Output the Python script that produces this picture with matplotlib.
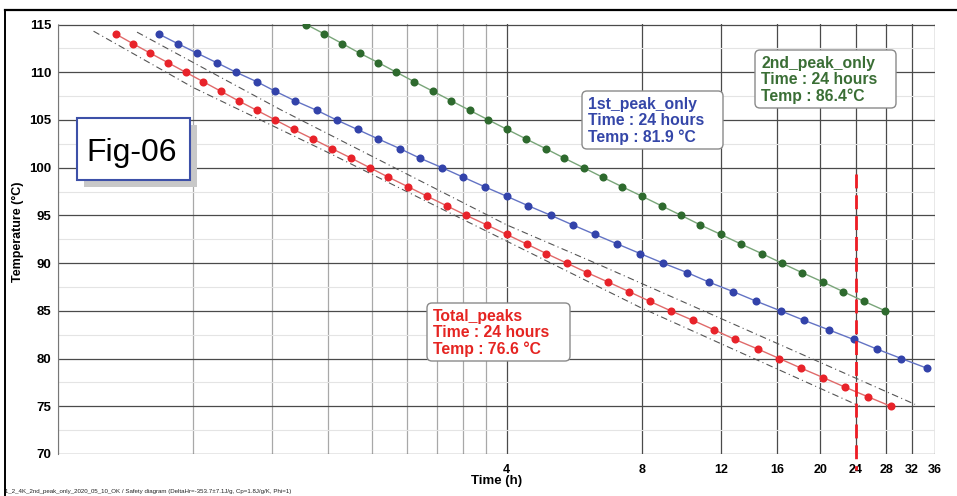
import matplotlib.pyplot as plt
from matplotlib.patches import Rectangle, FancyBboxPatch
from matplotlib.lines import Line2D
from matplotlib.ticker import NullFormatter

plt.rcParams['font.family'] = ['Liberation Sans', 'DejaVu Sans']

W, H = 957, 496

# temperature (degC) vs time to reach it (h)
temps_total = list(range(114, 74, -1))
time_total = [0.538, 0.587, 0.642, 0.703, 0.770, 0.843, 0.923, 1.01, 1.11, 1.22,
              1.34, 1.48, 1.63, 1.80, 1.98, 2.18, 2.41, 2.66, 2.94, 3.25,
              3.61, 4.00, 4.43, 4.90, 5.44, 6.04, 6.74, 7.50, 8.33, 9.28,
              10.4, 11.6, 12.9, 14.5, 16.2, 18.1, 20.3, 22.7, 25.5, 28.7]

temps_1st = list(range(114, 78, -1))
time_1st = [0.671, 0.739, 0.816, 0.903, 0.997, 1.11, 1.22, 1.35, 1.51, 1.67,
            1.86, 2.07, 2.31, 2.56, 2.87, 3.20, 3.57, 4.00, 4.47, 5.02,
            5.61, 6.29, 7.06, 7.93, 8.92, 10.1, 11.3, 12.8, 14.4, 16.3,
            18.4, 20.9, 23.7, 26.7, 30.3, 34.5]

temps_2nd = list(range(115, 84, -1))
time_2nd = [1.43, 1.57, 1.72, 1.88, 2.07, 2.27, 2.49, 2.74, 3.01, 3.31,
            3.64, 4.01, 4.42, 4.88, 5.37, 5.93, 6.54, 7.23, 8.01, 8.85,
            9.79, 10.8, 12.0, 13.3, 14.8, 16.4, 18.2, 20.3, 22.5, 25.0, 27.9]

# uncertainty band around Total_peaks
band_lo_temp = [114.3, 108.4, 101.9, 85.4, 75.0]
band_lo_time = [0.48, 0.80, 1.55, 7.9, 24.5]
band_hi_temp = [114.2, 106.1, 94.0, 89.8, 75.2]
band_hi_time = [0.60, 1.25, 4.0, 6.45, 32.5]

tmr_time = 24
x_major = [4, 8, 12, 16, 20, 24, 28, 32, 36]
x_minor = [0.8, 1.2, 1.6, 2.0, 2.4, 2.8, 3.2, 3.6]

labels = [
    ("Total_peaks\nTime : 24 hours\nTemp : 76.6 °C", '#e52421'),
    ("1st_peak_only\nTime : 24 hours\nTemp : 81.9 °C", '#3446a8'),
    ("2nd_peak_only\nTime : 24 hours\nTemp : 86.4°C", '#3a6e35'),
]
footer = "1_2_4K_2nd_peak_only_2020_05_10_OK / Safety diagram (DeltaHr=-353.7±7.1J/g, Cp=1.8J/g/K, Phi=1)"

fig = plt.figure(figsize=(W / 100, H / 100), dpi=100)
ax = fig.add_axes([58 / W, 1 - 454 / H, (935 - 58) / W, (454 - 24.5) / H])

ax.set_xscale('log')
ax.set_xlim(0.4, 36)
ax.set_ylim(70, 115)

ax.set_xticks(x_major)
ax.set_xticklabels([str(v) for v in x_major])
ax.set_xticks(x_minor, minor=True)
ax.xaxis.set_minor_formatter(NullFormatter())
ax.set_yticks(range(70, 116, 5))
ax.set_yticks([72.5 + 5 * i for i in range(9)], minor=True)

ax.xaxis.grid(True, which='major', color='#4a4a4a', lw=0.9)
ax.xaxis.grid(True, which='minor', color='#a8a8a8', lw=0.9)
ax.yaxis.grid(True, which='major', color='#4a4a4a', lw=0.9)
ax.yaxis.grid(True, which='minor', color='#e4e4e4', lw=0.8)
ax.axvline(0.4, color='#a8a8a8', lw=0.9)
ax.set_axisbelow(True)

ax.tick_params(which='both', length=0)
ax.tick_params(axis='x', pad=7, labelsize=9)
ax.tick_params(axis='y', pad=5, labelsize=9.5)
for lab in ax.get_xticklabels() + ax.get_yticklabels():
    lab.set_fontweight('bold')
for s in ['top', 'right', 'bottom']:
    ax.spines[s].set_visible(False)
ax.spines['left'].set_color('#777777')

# bands
ax.plot(band_lo_time, band_lo_temp, color='#555555', lw=0.8, ls=(0, (6, 3, 1, 3)))
ax.plot(band_hi_time, band_hi_temp, color='#555555', lw=0.8, ls=(0, (6, 3, 1, 3)))

# curves
ax.plot(time_total, temps_total, color='#e06a6a', lw=1.0, zorder=3)
ax.plot(time_total, temps_total, 'o', color='#e8232a', ms=5.8, mec='none', zorder=4)
ax.plot(time_1st, temps_1st, color='#6373c4', lw=1.0, zorder=3)
ax.plot(time_1st, temps_1st, 'o', color='#3343aa', ms=5.8, mec='none', zorder=4)
ax.plot(time_2nd, temps_2nd, color='#79a579', lw=1.0, zorder=3)
ax.plot(time_2nd, temps_2nd, 'o', color='#2e6a2e', ms=5.8, mec='none', zorder=4)

# 24 h marker
ax.plot([tmr_time, tmr_time], [99.3, 68.3], color='#ee1c24', lw=2.0,
        ls=(0, (5, 2.5)), clip_on=False, zorder=5)

tr = fig.dpi_scale_trans


def pt(x, y):
    return x / 100, (H - y) / 100


# label boxes
boxes = [(427, 303, 570, 361), (582, 91, 723, 149), (755, 50, 896, 108)]
for (x0, y0, x1, y1), (txt, col) in zip(boxes, labels):
    bx, by = pt(x0, y1)
    fig.patches.append(FancyBboxPatch((bx, by), (x1 - x0) / 100, (y1 - y0) / 100,
                                      boxstyle='round,pad=0,rounding_size=0.05',
                                      fc='white', ec='#8a8a8a', lw=1.0, transform=tr, zorder=6))
    tx, ty = pt(x0 + 6, (y0 + y1) / 2 + 1)
    fig.text(tx, ty, txt, transform=tr, color=col, fontsize=11.3, fontweight='bold',
             ha='left', va='center', linespacing=1.12, zorder=7)

# Fig-06 tag
sx, sy = pt(84, 187)
fig.patches.append(Rectangle((sx, sy), 113 / 100, 62 / 100, transform=tr,
                             fc='#c8c8c8', ec='none', zorder=6))
fx, fy = pt(77, 180)
fig.patches.append(Rectangle((fx, fy), 113 / 100, 62 / 100, transform=tr,
                             fc='white', ec='#3d50a8', lw=1.5, zorder=7))
cx, cy = pt(132, 153)
fig.text(cx, cy, "Fig-06", transform=tr, fontsize=23, ha='center', va='center', zorder=8)

# axis titles
fig.text(*pt(18, 232), "Temperature (°C)", transform=tr, rotation=90, fontsize=9,
         fontweight='bold', ha='center', va='center')
fig.text(*pt(497, 481), "Time (h)", transform=tr, fontsize=9.5,
         fontweight='bold', ha='center', va='center')
fig.text(*pt(5, 491), footer, transform=tr, fontsize=4.4, ha='left', va='center',
         color='#222222')

# outer frame
fig.lines.append(Line2D([5 / 100, W / 100], [(H - 10) / 100] * 2, transform=tr,
                        color='black', lw=1.6))
fig.lines.append(Line2D([5 / 100] * 2, [0, (H - 10) / 100], transform=tr,
                        color='black', lw=1.4))

fig.savefig('out.png', dpi=100)
